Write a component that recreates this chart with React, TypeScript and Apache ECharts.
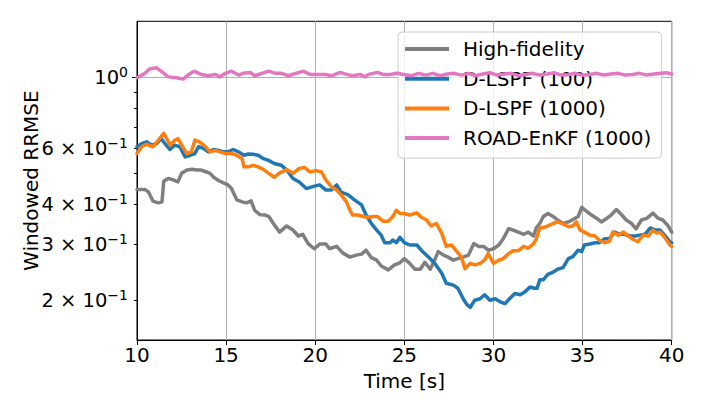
import React, { useEffect, useRef } from "react";
import * as echarts from "echarts";

// ---- data ----
const seriesNames = ["High-fidelity", "D-LSPF (100)", "D-LSPF (1000)", "ROAD-EnKF (1000)"];
const seriesColors = ["#7f7f7f", "#1f77b4", "#ff7f0e", "#e377c2"];

const hfTime = [10, 10.45, 10.64, 10.9, 11.2, 11.4, 11.5, 11.75, 12.0, 12.3, 12.5, 12.8, 13.1, 13.35, 13.6, 13.9, 14.1, 14.3, 14.6, 14.85, 15.1, 15.3, 15.6, 15.9, 16.15, 16.4, 16.6, 16.9, 17.2, 17.4, 17.65, 18.0, 18.4, 18.75, 19.05, 19.3, 19.6, 19.95, 20.25, 20.6, 20.8, 21.2, 21.55, 21.95, 22.3, 22.6, 22.85, 23.15, 23.45, 23.7, 24.1, 24.45, 24.75, 25.0, 25.3, 25.6, 25.9, 26.15, 26.45, 26.7, 26.9, 27.2, 27.45, 27.75, 28.0, 28.3, 28.6, 28.9, 29.15, 29.45, 29.7, 30.0, 30.3, 30.55, 30.85, 31.1, 31.4, 31.7, 31.95, 32.25, 32.4, 32.6, 32.8, 33.05, 33.35, 33.6, 33.9, 34.2, 34.45, 34.75, 34.95, 35.2, 35.5, 35.8, 36.05, 36.35, 36.6, 36.9, 37.2, 37.45, 37.75, 38.0, 38.3, 38.6, 38.95, 39.25, 39.5, 39.8, 40];
const hfValues = [0.445, 0.445, 0.4375, 0.409, 0.404, 0.407, 0.472, 0.482, 0.478, 0.47, 0.5, 0.512, 0.515, 0.512, 0.512, 0.505, 0.5, 0.486, 0.474, 0.467, 0.46, 0.448, 0.413, 0.407, 0.404, 0.41, 0.383, 0.371, 0.37, 0.366, 0.348, 0.327, 0.342, 0.332, 0.318, 0.322, 0.301, 0.29, 0.3, 0.3, 0.29, 0.295, 0.281, 0.273, 0.277, 0.279, 0.287, 0.272, 0.267, 0.256, 0.249, 0.258, 0.262, 0.27, 0.261, 0.25, 0.25, 0.263, 0.25, 0.267, 0.284, 0.277, 0.273, 0.267, 0.27, 0.273, 0.277, 0.301, 0.295, 0.295, 0.287, 0.29, 0.298, 0.312, 0.335, 0.332, 0.327, 0.322, 0.327, 0.318, 0.337, 0.348, 0.366, 0.374, 0.366, 0.357, 0.348, 0.352, 0.358, 0.366, 0.391, 0.381, 0.37, 0.361, 0.352, 0.361, 0.37, 0.385, 0.37, 0.357, 0.348, 0.335, 0.357, 0.361, 0.375, 0.361, 0.357, 0.342, 0.327];

const lspf100Time = [10, 10.26, 10.54, 10.82, 11.1, 11.35, 11.57, 11.85, 12.1, 12.4, 12.7, 13.0, 13.25, 13.45, 13.7, 14.0, 14.3, 14.6, 14.85, 15.1, 15.4, 15.7, 16.0, 16.25, 16.5, 16.8, 17.1, 17.35, 17.7, 18.1, 18.4, 18.75, 19.1, 19.5, 19.9, 20.25, 20.6, 20.9, 21.2, 21.45, 21.85, 22.2, 22.6, 22.85, 23.15, 23.45, 23.7, 23.9, 24.2, 24.35, 24.55, 24.75, 25.0, 25.3, 25.7, 25.95, 26.35, 26.7, 27.1, 27.35, 27.75, 28.0, 28.3, 28.5, 28.7, 28.95, 29.25, 29.5, 29.8, 30.1, 30.35, 30.65, 30.9, 31.2, 31.5, 31.75, 32.05, 32.3, 32.45, 32.6, 32.8, 33.05, 33.35, 33.6, 33.9, 34.2, 34.45, 34.75, 34.95, 35.1, 35.4, 35.7, 35.95, 36.25, 36.5, 36.8, 37.1, 37.35, 37.65, 37.95, 38.2, 38.5, 38.8, 39.1, 39.35, 39.6, 39.9, 40];
const lspf100Values = [0.606, 0.62, 0.628, 0.613, 0.62, 0.643, 0.62, 0.594, 0.613, 0.606, 0.563, 0.57, 0.577, 0.606, 0.6, 0.584, 0.594, 0.59, 0.584, 0.584, 0.594, 0.584, 0.57, 0.575, 0.574, 0.57, 0.556, 0.55, 0.537, 0.53, 0.512, 0.482, 0.47, 0.448, 0.455, 0.46, 0.443, 0.443, 0.46, 0.437, 0.428, 0.413, 0.398, 0.37, 0.348, 0.332, 0.32, 0.303, 0.303, 0.309, 0.303, 0.315, 0.303, 0.298, 0.298, 0.287, 0.273, 0.261, 0.243, 0.226, 0.223, 0.218, 0.202, 0.194, 0.19, 0.2, 0.202, 0.208, 0.2, 0.202, 0.198, 0.195, 0.202, 0.21, 0.208, 0.212, 0.22, 0.218, 0.218, 0.232, 0.232, 0.241, 0.245, 0.25, 0.253, 0.27, 0.274, 0.287, 0.284, 0.298, 0.3, 0.303, 0.303, 0.312, 0.312, 0.327, 0.322, 0.322, 0.318, 0.318, 0.32, 0.322, 0.337, 0.332, 0.332, 0.32, 0.305, 0.303];

const lspf1000Time = [10, 10.26, 10.54, 10.9, 11.2, 11.5, 11.66, 11.85, 12.13, 12.3, 12.5, 12.8, 13.05, 13.25, 13.5, 13.8, 14.1, 14.4, 14.65, 14.95, 15.3, 15.6, 15.9, 16.0, 16.25, 16.5, 16.8, 17.1, 17.35, 17.7, 18.0, 18.4, 18.75, 19.1, 19.4, 19.7, 20.05, 20.35, 20.6, 20.9, 21.2, 21.45, 21.75, 21.95, 22.1, 22.4, 22.7, 22.95, 23.25, 23.5, 23.8, 24.1, 24.35, 24.55, 24.75, 25.0, 25.3, 25.7, 25.95, 26.25, 26.5, 26.8, 27.1, 27.35, 27.65, 27.95, 28.2, 28.4, 28.7, 28.95, 29.25, 29.5, 29.7, 30.0, 30.3, 30.55, 30.85, 31.1, 31.4, 31.7, 31.95, 32.25, 32.4, 32.6, 32.8, 33.05, 33.35, 33.6, 33.9, 34.2, 34.45, 34.65, 34.85, 35.1, 35.4, 35.7, 35.95, 36.25, 36.5, 36.7, 37.0, 37.3, 37.55, 37.85, 38.1, 38.4, 38.7, 38.95, 39.15, 39.35, 39.6, 39.9, 40];
const lspf1000Values = [0.577, 0.606, 0.617, 0.606, 0.636, 0.667, 0.643, 0.613, 0.636, 0.643, 0.613, 0.577, 0.584, 0.636, 0.628, 0.61, 0.584, 0.59, 0.584, 0.577, 0.577, 0.57, 0.556, 0.524, 0.524, 0.53, 0.524, 0.514, 0.502, 0.486, 0.502, 0.514, 0.5, 0.518, 0.522, 0.505, 0.51, 0.505, 0.476, 0.454, 0.443, 0.428, 0.407, 0.383, 0.37, 0.37, 0.366, 0.364, 0.366, 0.366, 0.354, 0.354, 0.366, 0.383, 0.374, 0.374, 0.37, 0.376, 0.364, 0.357, 0.342, 0.348, 0.324, 0.295, 0.298, 0.284, 0.273, 0.251, 0.261, 0.258, 0.261, 0.267, 0.28, 0.261, 0.267, 0.27, 0.28, 0.286, 0.286, 0.295, 0.291, 0.301, 0.311, 0.337, 0.338, 0.342, 0.348, 0.352, 0.347, 0.34, 0.342, 0.352, 0.332, 0.327, 0.32, 0.318, 0.308, 0.303, 0.306, 0.327, 0.32, 0.327, 0.318, 0.31, 0.305, 0.32, 0.318, 0.332, 0.325, 0.327, 0.315, 0.298, 0.295];

const enkfTime = [10, 10.45, 10.7, 11.1, 11.4, 11.75, 12.2, 12.6, 12.9, 13.2, 13.6, 14.0, 14.4, 14.65, 14.95, 15.3, 15.7, 15.95, 16.35, 16.6, 17.0, 17.4, 17.75, 18.1, 18.5, 18.9, 19.35, 19.7, 20.1, 20.55, 20.9, 21.4, 21.75, 22.1, 22.5, 22.8, 23.0, 23.5, 23.8, 24.2, 24.6, 24.95, 25.4, 25.8, 26.2, 26.6, 27.0, 27.4, 27.8, 28.2, 28.6, 29.0, 29.4, 29.8, 30.2, 30.6, 31.0, 31.4, 31.8, 32.2, 32.6, 33.0, 33.4, 33.8, 34.2, 34.6, 35.0, 35.4, 35.8, 36.2, 36.6, 37.0, 37.4, 37.8, 38.2, 38.6, 39.0, 39.4, 39.7, 40];
const enkfValues = [0.997, 1.03, 1.062, 1.072, 1.04, 1.004, 0.997, 0.988, 1.022, 1.046, 1.022, 1.012, 1.022, 1.004, 1.03, 1.046, 1.017, 1.03, 1.037, 1.012, 1.03, 1.046, 1.03, 1.03, 1.012, 1.03, 1.046, 1.022, 1.022, 1.022, 1.012, 1.037, 1.022, 1.012, 1.022, 1.004, 1.022, 1.037, 1.022, 1.022, 1.03, 1.022, 1.012, 1.03, 1.017, 1.03, 1.012, 1.025, 1.03, 1.017, 1.03, 1.012, 1.025, 1.035, 1.017, 1.025, 1.03, 1.012, 1.022, 1.03, 1.017, 1.025, 1.035, 1.017, 1.02, 1.03, 1.015, 1.022, 1.03, 1.017, 1.025, 1.03, 1.017, 1.022, 1.03, 1.017, 1.025, 1.03, 1.035, 1.025];

const xMin = 10;
const xMax = 40;
const xInterval = 5;
const yMin = 0.15;
const yMax = 1.5;
const yLabelValues = [0.2, 0.3, 0.4, 0.6, 1];
const yLabelTexts = ["2 × 10{sup|−1}", "3 × 10{sup|−1}", "4 × 10{sup|−1}", "6 × 10{sup|−1}", "10{sup|0}"];
const yMajorTicks = [1];
const yMinorTicks = [0.2, 0.3, 0.4, 0.5, 0.6, 0.7, 0.8, 0.9];

const FONT = "DejaVu Sans";

function toPairs(ts: number[], vs: number[]) {
  return ts.map((t, i) => [t, Math.log10(vs[i])]);
}

export default function App() {
  const ref = useRef<HTMLDivElement>(null);
  useEffect(() => {
    if (!ref.current) return;
    const chart = echarts.init(ref.current, null, { renderer: "svg" });
    const datasets = [
      toPairs(hfTime, hfValues),
      toPairs(lspf100Time, lspf100Values),
      toPairs(lspf1000Time, lspf1000Values),
      toPairs(enkfTime, enkfValues),
    ];
    const labelLogs = yLabelValues.map((v) => Math.log10(v));
    chart.setOption({
      animation: false,
      textStyle: { fontFamily: FONT },
      grid: {
        left: 137,
        right: 34.3,
        top: 21.3,
        bottom: 75,
        show: true,
        borderColor: "#000",
        borderWidth: 1,
        backgroundColor: "transparent",
      },
      legend: {
        show: true,
        orient: "vertical",
        left: 398,
        top: 32,
        padding: [7, 10, 10, 7],
        itemWidth: 44,
        itemHeight: 4,
        itemGap: 9.7,
        icon: "rect",
        selectedMode: false,
        backgroundColor: "rgba(255,255,255,0.8)",
        borderColor: "#cccccc",
        borderWidth: 1,
        borderRadius: 4,
        textStyle: {
          fontFamily: FONT,
          fontSize: 20,
          color: "#000",
          lineHeight: 20,
          padding: [0, 0, 0, 9],
        },
        data: seriesNames,
      },
      xAxis: {
        type: "value",
        min: xMin,
        max: xMax,
        interval: xInterval,
        name: "Time [s]",
        nameLocation: "middle",
        nameGap: 31,
        nameMoveOverlap: false,
        nameTextStyle: { fontFamily: FONT, fontSize: 20, color: "#000" },
        axisLine: { show: true, onZero: false, lineStyle: { color: "#000", width: 1 } },
        axisTick: { show: true, length: 5, lineStyle: { color: "#000", width: 1 } },
        axisLabel: { fontFamily: FONT, fontSize: 20, color: "#000", margin: 5 },
        splitLine: { show: true, lineStyle: { color: "#b0b0b0", width: 1 } },
      },
      yAxis: [
        {
          type: "value",
          min: Math.log10(yMin),
          max: Math.log10(yMax),
          name: "Windowed RRMSE",
          nameLocation: "middle",
          nameGap: 96,
          nameRotate: 90,
          nameMoveOverlap: false,
          nameTextStyle: { fontFamily: FONT, fontSize: 20, color: "#000" },
          axisLine: { show: true, onZero: false, lineStyle: { color: "#000", width: 1 } },
          axisTick: {
            show: true,
            length: 5,
            customValues: yMajorTicks.map((v) => Math.log10(v)),
            lineStyle: { color: "#000", width: 1 },
          },
          axisLabel: {
            show: true,
            customValues: labelLogs,
            fontFamily: FONT,
            fontSize: 19.5,
            color: "#000",
            margin: 9,
            formatter: (val: number) => {
              let best = 0;
              for (let i = 0; i < labelLogs.length; i++) {
                if (Math.abs(labelLogs[i] - val) < Math.abs(labelLogs[best] - val)) best = i;
              }
              return yLabelTexts[best];
            },
            rich: {
              sup: { fontFamily: FONT, fontSize: 14, color: "#000", padding: [0, 0, 10, 0] },
            },
          },
          splitLine: { show: true, lineStyle: { color: "#b0b0b0", width: 1 } },
        },
        {
          type: "value",
          position: "left",
          min: Math.log10(yMin),
          max: Math.log10(yMax),
          axisLine: { show: false, onZero: false },
          axisTick: {
            show: true,
            length: 3,
            customValues: yMinorTicks.map((v) => Math.log10(v)),
            lineStyle: { color: "#000", width: 1 },
          },
          axisLabel: { show: false },
          splitLine: { show: false },
        },
      ],
      series: datasets.map((d, i) => ({
        name: seriesNames[i],
        type: "line",
        data: d,
        yAxisIndex: 0,
        showSymbol: false,
        symbol: "none",
        color: seriesColors[i],
        lineStyle: { color: seriesColors[i], width: 3.5, cap: "round", join: "round" },
        z: 2 + i,
      })),
    });
    return () => chart.dispose();
  }, []);
  return (
    <div
      ref={ref}
      style={{ position: "fixed", left: 0, top: 0, width: 706, height: 415, background: "#fff" }}
    />
  );
}
